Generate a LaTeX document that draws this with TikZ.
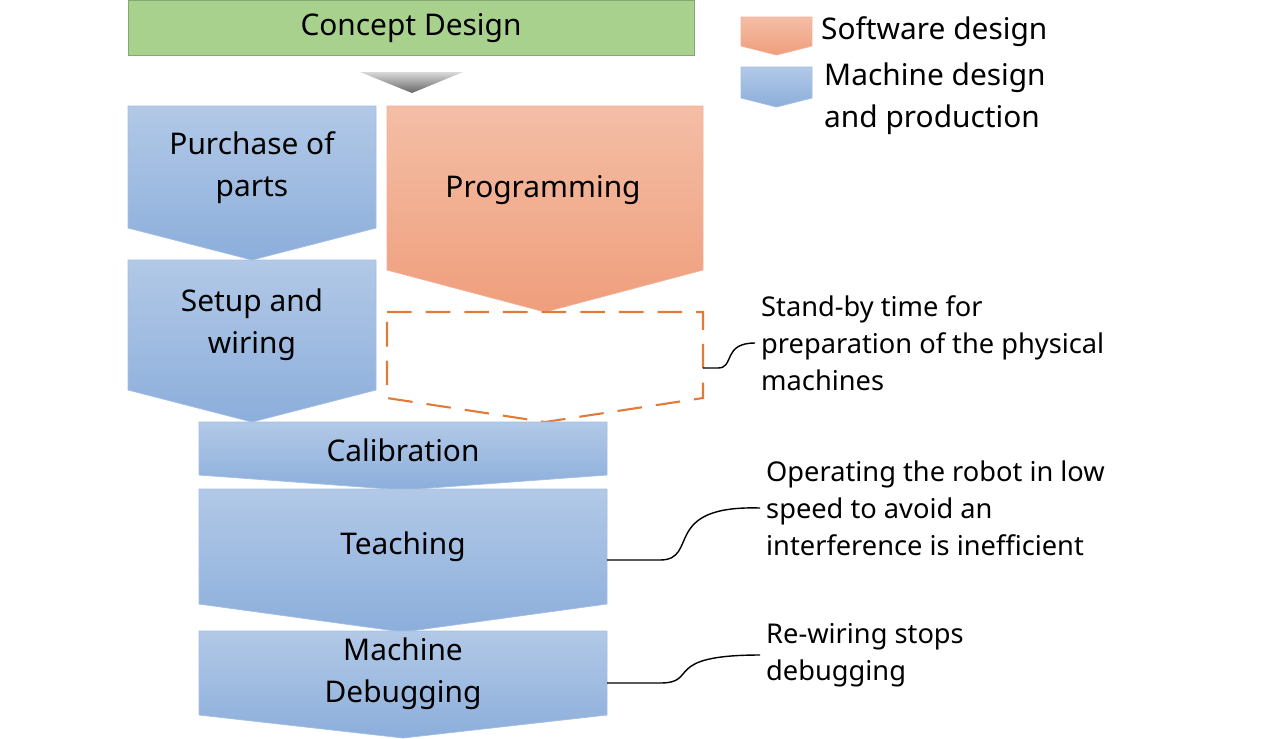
\documentclass[tikz,border=0pt]{standalone}
\usepackage{fontspec}
\setmainfont{Noto Sans}
\usetikzlibrary{positioning}
\definecolor{bluetop}{HTML}{B2C9E7}
\definecolor{bluebot}{HTML}{8CAEDB}
\definecolor{orgtop}{HTML}{F4BEA6}
\definecolor{orgbot}{HTML}{EF9E7C}
\definecolor{orgline}{HTML}{E07B3A}
\definecolor{greenbox}{HTML}{A9D18E}
% pentagon arrow: left, right, top, side bottom, tip
\newcommand{\penta}[6]{%
  \path[#6] (#1,#3) -- (#2,#3) -- (#2,#4) -- ({(#1+#2)/2},#5) -- (#1,#4) -- cycle;}
\begin{document}
\begin{tikzpicture}[
        x=0.02cm, y=-0.02cm,
        lbl/.style={font=\fontsize{17}{24}\selectfont, align=center},
        note/.style={font=\fontsize{15.5}{21}\selectfont, align=left, anchor=west},
        blue/.style={top color=bluetop, bottom color=bluebot, draw=bluebot!80, thin},
        orange/.style={top color=orgtop, bottom color=orgbot, draw=orgbot!80, thin},
        callout/.style={draw=black, thick},
    ]
        \useasboundingbox (0,0) rectangle (1284,738);
        % concept
        \path[fill=greenbox, draw=greenbox!80!black] (128,0) rectangle (694,55);
        \node[lbl] (concept) at (411,28) {Concept Design};
        \path[top color=gray!30, bottom color=gray!80!black] (360,72) -- (463,72) -- (412,93) -- cycle;
        % left column
        \penta{128}{376}{106}{228}{260}{blue}
        \node[lbl] (purchase) at (252,168) {Purchase of\\parts};
        \penta{128}{376}{260}{390}{422}{blue}
        \node[lbl] (setup) at (252,325) {Setup and\\wiring};
        % right column
        \penta{387}{703}{106}{270}{312}{orange}
        \node[lbl] (prog) at (543,190) {Programming};
        \penta{387}{703}{312}{398}{422}{draw=orgline, very thick, dash pattern=on 14pt off 8pt}
        \coordinate (wait) at (703,368);
        % lower column
        \penta{199}{607}{422}{475}{490}{blue}
        \node[lbl] (calib) at (403,450) {Calibration};
        \penta{199}{607}{489}{604}{632}{blue}
        \node[lbl] (teach) at (403,547) {Teaching};
        \coordinate (teachR) at (607,560);
        \penta{199}{607}{631}{715}{738}{blue}
        \node[lbl] (debug) at (403,674) {Machine\\Debugging};
        \coordinate (debugR) at (607,683);
        % legend
        \penta{741}{812}{17}{46}{55}{orange}
        \node[note, font=\fontsize{17}{24}\selectfont] (legsw) at (815,32) {Software design};
        \penta{741}{812}{67}{98}{107}{blue}
        \node[note, font=\fontsize{17}{24}\selectfont] (legmc) at (818,99) {Machine design\\and production};
        % notes
        \node[note] (n1) at (755,343) {Stand-by time for\\preparation of the physical\\machines};
        \node[note] (n2) at (760,508) {Operating the robot in low\\speed to avoid an\\interference is inefficient};
        \node[note] (n3) at (760,655) {Re-wiring stops\\debugging};
        \draw[callout] (wait) -- (718,368) .. controls (735,368) and (722,343) .. (n1.west);
        \draw[callout] (teachR) -- (660,560) .. controls (700,560) and (660,505) .. (n2.west);
        \draw[callout] (debugR) -- (660,683) .. controls (700,683) and (660,655) .. (n3.west);
    \end{tikzpicture}
\end{document}
